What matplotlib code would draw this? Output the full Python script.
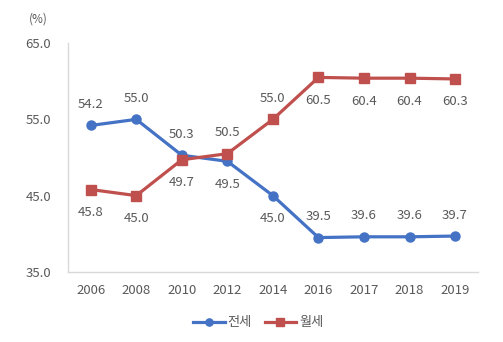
import matplotlib
matplotlib.use('Agg')
import matplotlib.pyplot as plt
import numpy as np

plt.rcParams['font.family'] = ['Noto Sans CJK KR', 'DejaVu Sans']

years = ['2006', '2008', '2010', '2012', '2014', '2016', '2017', '2018', '2019']
jeonse = [54.2, 55.0, 50.3, 49.5, 45.0, 39.5, 39.6, 39.6, 39.7]
wolse = [45.8, 45.0, 49.7, 50.5, 55.0, 60.5, 60.4, 60.4, 60.3]
# label side: 1 above, -1 below
jeonse_side = [1, 1, 1, -1, -1, 1, 1, 1, 1]
wolse_side = [-1, -1, -1, 1, 1, -1, -1, -1, -1]

blue = '#4472C4'
red = '#C0504D'
txt = '#595959'

fig = plt.figure(figsize=(5.03, 3.42), dpi=100)
ax = fig.add_axes([0.135, 0.205, 0.815, 0.669])

x = np.arange(len(years))
ax.plot(x, jeonse, color=blue, lw=2.3, marker='o', ms=6.5, label='전세', zorder=3)
ax.plot(x, wolse, color=red, lw=2.3, marker='s', ms=6.5, label='월세', zorder=3)


def put_labels(vals, sides):
    for xi, v, s in zip(x, vals, sides):
        off = 15 if s > 0 else -16.5
        ax.annotate(f'{v:.1f}', (xi, v), xytext=(0, off), textcoords='offset points',
                    ha='center', va='center', fontsize=9.5, color=txt)


put_labels(jeonse, jeonse_side)
put_labels(wolse, wolse_side)

ax.set_xlim(-0.5, len(years) - 0.5)
ax.set_ylim(35, 65)
ax.set_yticks([35, 45, 55, 65])
ax.set_yticklabels(['35.0', '45.0', '55.0', '65.0'])
ax.set_xticks(x)
ax.set_xticklabels(years)
ax.tick_params(length=0, labelsize=9.5, labelcolor=txt)
ax.tick_params(axis='y', pad=12)
ax.tick_params(axis='x', pad=8.5)

for side in ['top', 'right']:
    ax.spines[side].set_visible(False)
for side in ['left', 'bottom']:
    ax.spines[side].set_color('#D9D9D9')
    ax.spines[side].set_linewidth(1)

fig.text(0.076, 0.945, '(%)', fontsize=8.5, color=txt, ha='center', va='center')

leg = fig.legend(loc='center', bbox_to_anchor=(0.513, 0.056), ncol=2, frameon=False,
                 fontsize=9.5, labelcolor=txt, handlelength=2.4, handletextpad=0.2,
                 columnspacing=1.0, markerscale=0.8)

plt.savefig('out.png', dpi=100)
plt.close()
